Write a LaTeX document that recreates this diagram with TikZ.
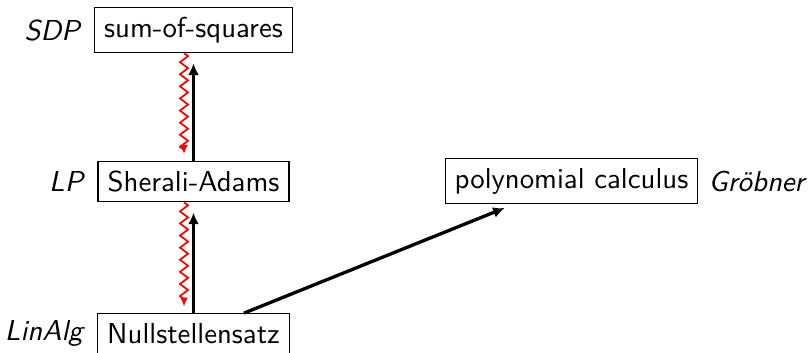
\documentclass[tikz,border=0pt]{standalone}
\usetikzlibrary{arrows.meta,decorations.pathmorphing}
\begin{document}
\begin{tikzpicture}[x=0.3472pt,y=-0.3472pt,font=\sffamily,
  box/.style={draw,line width=0.4pt,inner sep=3.33pt},
  tag/.style={font=\sffamily\itshape},
  imp/.style={line width=1.15pt,-{Latex[length=4pt,width=3.8pt]},shorten >=3.6pt},
  wig/.style={red,line width=0.6pt,-{Latex[length=3.2pt,width=2.6pt]},shorten >=2.2pt,
    decorate,decoration={zigzag,amplitude=1.4pt,segment length=4.2pt,post length=3pt}}]
\useasboundingbox (0,0) rectangle (810,352);
\node[box,label={[tag,label distance=1.4pt]left:SDP}] (sos) at (193.5,30) {sum-of-squares};
\node[box,label={[tag,label distance=1.4pt]left:LP}] (sa) at (193.5,181.5) {Sherali-Adams};
\node[box,label={[tag,label distance=1.4pt]left:LinAlg}] (ns) at (193.5,333.5) {Nullstellensatz};
\node[box,label={[tag]right:Gröbner}] (pc) at (571.5,181) {polynomial calculus};
\draw[imp] (ns.north) -- (sa.south);
\draw[imp] (sa.north) -- (sos.south);
\draw[imp] (ns) -- (pc);
\draw[wig] ([xshift=-3.3pt]sos.south) -- ([xshift=-3.3pt]sa.north);
\draw[wig] ([xshift=-3.3pt]sa.south) -- ([xshift=-3.3pt]ns.north);
\end{tikzpicture}
\end{document}
